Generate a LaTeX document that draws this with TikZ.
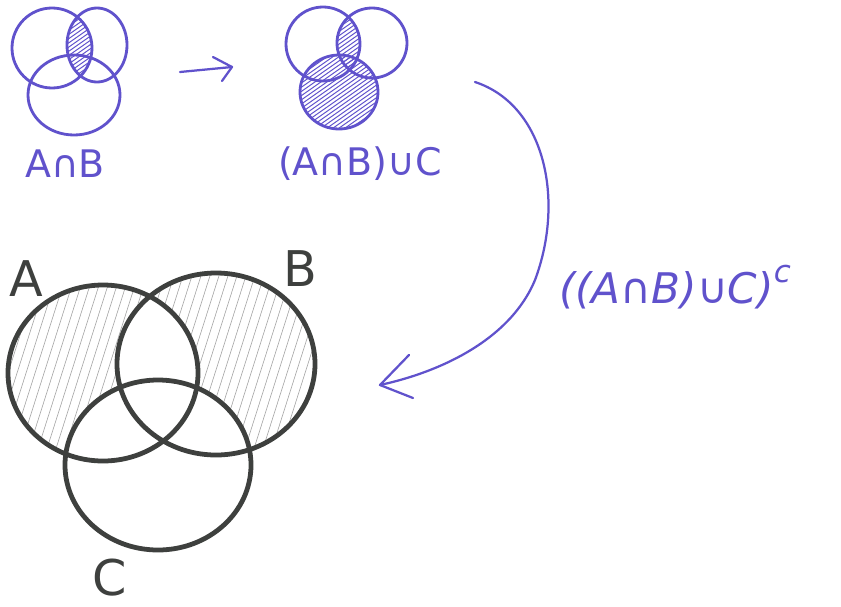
\documentclass[tikz,border=0pt]{standalone}
\usepackage{fontspec}
\setmainfont{DejaVu Sans}
\usetikzlibrary{positioning}
\definecolor{tinte}{RGB}{96,82,204}
\definecolor{bleistift}{RGB}{62,64,62}
\tikzset{
    skizze/.style  = {draw=tinte, line width=2pt},
    kreis/.style   = {draw=bleistift, line width=3.4pt},
    strichel/.style= {draw=tinte, line width=0.7pt},
    schraff/.style = {draw=black!35, line width=0.45pt},
    pfeil/.style   = {draw=tinte, line width=1.6pt, line cap=round, line join=round},
    formel/.style  = {text=tinte, inner sep=0pt},
    grossbuch/.style = {text=bleistift, font=\fontsize{35}{38}\selectfont, inner sep=0pt}
}
\begin{document}
\begin{tikzpicture}[x=0.025cm, y=-0.025cm]
    \useasboundingbox (0,0) rectangle (841,606);

    % --- kleine Skizze: A geschnitten B ---
    \coordinate (kA) at (52,48);
    \coordinate (kB) at (97,45);
    \coordinate (kC) at (74,95);
    \begin{scope}
        \clip (kA) ellipse [x radius=40, y radius=40];
        \clip (kB) ellipse [x radius=30, y radius=37];
        \foreach \i in {-220,-214,...,220}
            \draw[strichel] (\i,140) -- ++(200,-140);
    \end{scope}
    \draw[skizze] (kA) ellipse [x radius=40, y radius=40];
    \draw[skizze] (kB) ellipse [x radius=30, y radius=37];
    \draw[skizze] (kC) ellipse [x radius=46, y radius=40];
    \node[formel, font=\fontsize{27}{30}\selectfont] (tAB) at (65,164) {A∩B};

    % --- Pfeil nach rechts ---
    \coordinate (p1) at (180,72);
    \coordinate (p2) at (232,67);
    \draw[pfeil] (p1) -- (p2);
    \draw[pfeil] (213,57) -- (p2) -- (222,81);

    % --- kleine Skizze: (A geschnitten B) vereinigt C ---
    \coordinate (mA) at (323,44);
    \coordinate (mB) at (372,43);
    \coordinate (mC) at (339,92);
    \begin{scope}
        \clip (mA) ellipse [x radius=37, y radius=37];
        \clip (mB) ellipse [x radius=35, y radius=35];
        \foreach \i in {40,46,...,500}
            \draw[strichel] (\i,140) -- ++(200,-140);
    \end{scope}
    \begin{scope}
        \clip (mC) ellipse [x radius=39, y radius=37];
        \foreach \i in {40,46,...,500}
            \draw[strichel] (\i,140) -- ++(200,-140);
    \end{scope}
    \draw[skizze] (mA) ellipse [x radius=37, y radius=37];
    \draw[skizze] (mB) ellipse [x radius=35, y radius=35];
    \draw[skizze] (mC) ellipse [x radius=39, y radius=37];
    \node[formel, font=\fontsize{27}{30}\selectfont] (tABC) at (360,164) {(A∩B)∪C};

    % --- grosses Diagramm ---
    \coordinate (gA) at (103,373);
    \coordinate (gB) at (216,364);
    \coordinate (gC) at (158,465);
    \begin{scope}[even odd rule]
        \clip (gA) ellipse [x radius=95, y radius=88]
              (gB) ellipse [x radius=99, y radius=91];
        \foreach \i in {-80,-71,...,330}
            \draw[schraff] (\i,480) -- ++(70,-220);
    \end{scope}
    \fill[white] (gC) ellipse [x radius=93, y radius=85];
    \draw[kreis] (gA) ellipse [x radius=95, y radius=88];
    \draw[kreis] (gB) ellipse [x radius=99, y radius=91];
    \draw[kreis] (gC) ellipse [x radius=93, y radius=85];
    \node[grossbuch] (lA) at (26,279) {A};
    \node[grossbuch] (lB) at (300,269) {B};
    \node[grossbuch] (lC) at (110,578) {C};

    % --- Komplement ---
    \coordinate (bS) at (475,82);
    \coordinate (bE) at (380,385);
    \draw[pfeil] (bS) .. controls (545,105) and (565,200) .. (535,280)
                      .. controls (510,340) and (440,372) .. (bE);
    \draw[pfeil] (409,355) -- (bE) -- (413,398);
    \node[formel, font=\fontsize{30}{32}\selectfont\itshape] (tK) at (675,287)
        {((A∩B)∪C)\raisebox{0.9ex}{\fontsize{22}{24}\selectfont c}};
\end{tikzpicture}
\end{document}
